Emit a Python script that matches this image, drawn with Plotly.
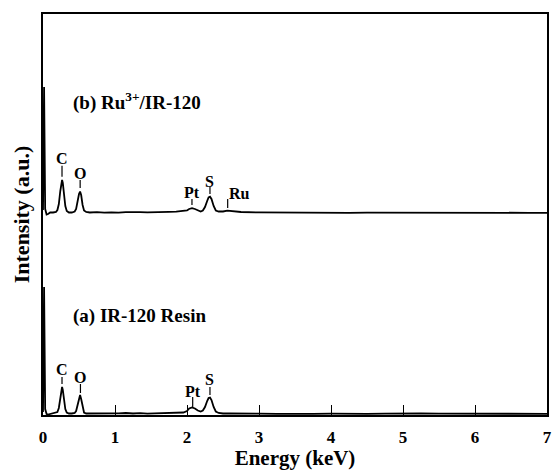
import plotly.graph_objects as go

# ---------------- data ----------------
energy_a = [0.000, 0.015, 0.030, 0.050, 0.070, 0.100, 0.140, 0.180, 0.200, 0.220, 0.240, 0.255,
            0.265, 0.275, 0.290, 0.310, 0.330, 0.360, 0.400, 0.440, 0.460, 0.480, 0.500, 0.515,
            0.530, 0.550, 0.570, 0.600, 0.650, 0.750, 0.850, 0.950, 1.050, 1.150, 1.250, 1.350,
            1.450, 1.550, 1.650, 1.750, 1.850, 1.950, 2.000, 2.030, 2.070, 2.110, 2.150, 2.190,
            2.220, 2.250, 2.280, 2.300, 2.320, 2.340, 2.370, 2.400, 2.440, 2.500, 2.600, 2.750,
            3.000, 3.250, 3.500, 3.750, 4.000, 4.250, 4.500, 4.750, 5.000, 5.250, 5.500, 5.750,
            6.000, 6.250, 6.500, 6.750, 7.000]
intensity_a = [3.0, 128.0, 6.0, 1.0, 0.5, 1.0, 1.5, 2.0, 3.0, 7.0, 17.0, 25.0,
               28.0, 25.0, 16.0, 6.0, 2.5, 1.5, 1.5, 2.0, 4.0, 10.0, 17.0, 20.0,
               16.0, 7.0, 2.5, 1.5, 1.5, 1.2, 1.8, 1.4, 1.6, 2.0, 1.5, 1.8,
               1.3, 1.6, 1.9, 1.7, 2.0, 2.5, 4.0, 6.5, 7.5, 6.5, 4.5, 3.5,
               4.5, 8.0, 14.0, 17.0, 17.5, 15.0, 8.0, 3.5, 2.0, 1.5, 1.5, 1.2,
               1.4, 1.1, 1.5, 1.2, 1.3, 1.6, 1.2, 1.4, 1.1, 1.5, 1.3, 1.2,
               1.4, 1.1, 1.3, 1.2, 1.2]

energy_b = [0.000, 0.015, 0.030, 0.050, 0.070, 0.100, 0.140, 0.180, 0.200, 0.220, 0.240, 0.255,
            0.265, 0.275, 0.290, 0.310, 0.330, 0.360, 0.400, 0.440, 0.460, 0.480, 0.500, 0.515,
            0.530, 0.550, 0.570, 0.600, 0.650, 0.750, 0.850, 0.950, 1.050, 1.150, 1.250, 1.350,
            1.450, 1.550, 1.650, 1.750, 1.850, 1.950, 2.000, 2.030, 2.070, 2.110, 2.150, 2.190,
            2.220, 2.250, 2.280, 2.300, 2.320, 2.340, 2.370, 2.400, 2.440, 2.500, 2.560, 2.620,
            2.750, 3.000, 3.250, 3.500, 3.750, 4.000, 4.250, 4.500, 4.750, 5.000, 5.250, 5.500,
            5.750, 6.000, 6.250, 6.500, 6.750, 7.000]
intensity_b = [205.0, 328.0, 206.0, 200.5, 201.0, 202.5, 202.5, 203.0, 205.0, 211.0, 224.0, 232.0,
               235.0, 232.0, 222.0, 209.0, 204.0, 202.5, 202.5, 203.5, 206.0, 214.0, 221.0, 223.5,
               220.0, 210.0, 204.5, 203.0, 202.5, 202.8, 202.3, 202.7, 202.4, 202.9, 202.5, 202.8,
               202.6, 203.0, 202.7, 203.1, 203.3, 203.8, 204.5, 206.0, 206.8, 206.0, 204.5, 203.5,
               204.5, 208.0, 214.0, 217.5, 218.3, 216.0, 209.0, 204.5, 203.5, 203.5, 204.3, 203.8,
               203.0, 202.6, 202.4, 202.5, 202.3, 202.4, 202.2, 202.4, 202.3, 202.2, 202.3, 202.2,
               202.3, 202.2, 202.2, 202.3, 202.2, 202.2]

x_ticks = [0, 1, 2, 3, 4, 5, 6, 7]

# element labels: name, energy, label height, marker top, marker bottom
elem_a = ["C", "O", "Pt", "S"]
elem_a_x = [0.264, 0.520, 2.079, 2.319]
elem_a_y = [46.0, 38.0, 23.5, 35.5]
elem_a_t0 = [38.0, 31.0, 18.0, 28.0]
elem_a_t1 = [31.0, 22.0, 8.0, 20.0]

elem_b = ["C", "O", "Pt", "S", "Ru"]
elem_b_x = [0.264, 0.516, 2.069, 2.319, 2.565]
elem_b_y = [257.0, 242.0, 223.0, 233.5, 221.5]
elem_b_t0 = [249.3, 235.0, 216.0, 228.0, 216.0]
elem_b_t1 = [238.3, 227.0, 210.0, 221.0, 207.0]

FONT = "Liberation Serif"

fig = go.Figure()
for xs, ys in [(energy_a, intensity_a), (energy_b, intensity_b)]:
    fig.add_trace(go.Scatter(x=xs, y=ys, mode="lines",
                             line=dict(color="black", width=1.8),
                             showlegend=False, hoverinfo="skip"))

annotations = []
shapes = []
for names, xs, ys, t0, t1 in [(elem_a, elem_a_x, elem_a_y, elem_a_t0, elem_a_t1),
                              (elem_b, elem_b_x, elem_b_y, elem_b_t0, elem_b_t1)]:
    for n, x, y, a, b in zip(names, xs, ys, t0, t1):
        xanchor = "left" if n == "Ru" else "center"
        annotations.append(dict(x=x - (0.012 if n == "Ru" else 0), y=y, xref="x", yref="y",
                                text=f"<b>{n}</b>", showarrow=False,
                                xanchor=xanchor, yanchor="middle",
                                font=dict(family=FONT, size=16, color="black")))
        shapes.append(dict(type="line", xref="x", yref="y", x0=x, x1=x, y0=a, y1=b,
                           line=dict(color="black", width=1.2)))

annotations.append(dict(x=0.389, y=314, xref="x", yref="y",
                        text="<b>(b) Ru<sup>3+</sup>/IR-120</b>", showarrow=False,
                        xanchor="left", yanchor="middle",
                        font=dict(family=FONT, size=19, color="black")))
annotations.append(dict(x=0.389, y=99, xref="x", yref="y",
                        text="<b>(a) IR-120 Resin</b>", showarrow=False,
                        xanchor="left", yanchor="middle",
                        font=dict(family=FONT, size=19, color="black")))

fig.update_layout(
    width=553, height=470,
    margin=dict(l=43, r=6, t=14, b=55),
    paper_bgcolor="white", plot_bgcolor="white",
    annotations=annotations, shapes=shapes,
    xaxis=dict(range=[0, 7], tickvals=x_ticks, ticktext=[f"<b>{v}</b>" for v in x_ticks],
               ticks="inside", ticklen=10, tickwidth=1.3, tickcolor="black",
               showline=True, linecolor="black", linewidth=1.5, mirror=True,
               showgrid=False, zeroline=False, ticklabelstandoff=6,
               ticklabeloverflow="allow", automargin=False,
               tickfont=dict(family=FONT, size=17, color="black"),
               title=dict(text="<b>Energy (keV)</b>", standoff=9,
                          font=dict(family=FONT, size=21, color="black"))),
    yaxis=dict(range=[0, 401], showticklabels=False, ticks="",
               showline=True, linecolor="black", linewidth=1.5, mirror=True,
               showgrid=False, zeroline=False, automargin=False,
               title=dict(text="<b>Intensity (a.u.)</b>", standoff=6,
                          font=dict(family=FONT, size=22, color="black"))),
)

fig.write_html("out.html",
               config={"displayModeBar": False},
               post_script="document.body.style.margin='0';"
                           "document.body.style.overflow='hidden';")
